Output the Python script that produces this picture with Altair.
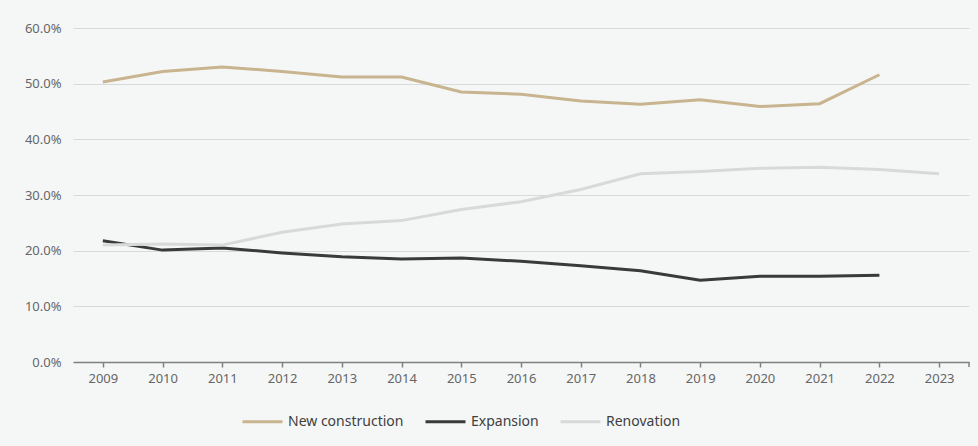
import altair as alt
import pandas as pd

years = [str(y) for y in range(2009, 2024)]
new_construction = [50.3, 52.2, 53.0, 52.2, 51.2, 51.2, 48.5, 48.1, 46.9, 46.3, 47.1, 45.9, 46.4, 51.6, None]
expansion = [21.8, 20.1, 20.5, 19.6, 18.9, 18.5, 18.7, 18.1, 17.3, 16.4, 14.7, 15.4, 15.4, 15.6, None]
renovation = [21.0, 21.2, 21.0, 23.3, 24.8, 25.4, 27.4, 28.8, 31.0, 33.8, 34.2, 34.8, 35.0, 34.6, 33.8]

series_names = ["New construction", "Expansion", "Renovation"]
series_colors = ["#c8b48e", "#3a3a3a", "#d9d9d9"]

rows = []
for name, vals in zip(series_names, [new_construction, expansion, renovation]):
    for y, v in zip(years, vals):
        if v is not None:
            rows.append({"Year": y, "Series": name, "Value": v / 100})
df = pd.DataFrame(rows)

FONT = "Noto Sans"

lines = alt.Chart(df).mark_line(strokeWidth=3).encode(
    x=alt.X("Year:O", sort=years, title=None,
            scale=alt.Scale(domain=years, paddingInner=0, paddingOuter=0),
            axis=alt.Axis(bandPosition=0, labelAngle=0, labelFont=FONT, labelFontSize=13,
                          labelColor="#666666", labelPadding=5, domainColor="#808080",
                          domainWidth=1.5, tickColor="#808080", tickSize=5, tickWidth=1.5,
                          grid=False)),
    y=alt.Y("Value:Q", title=None,
            scale=alt.Scale(domain=[0, 0.6], nice=False),
            axis=alt.Axis(format=".1%", values=[0, 0.1, 0.2, 0.3, 0.4, 0.5, 0.6],
                          labelFont=FONT, labelFontSize=13, labelColor="#666666",
                          labelPadding=12, domain=False, ticks=False,
                          gridColor="#d9d9d9", gridWidth=1)),
    color=alt.Color("Series:N", sort=series_names,
                    scale=alt.Scale(domain=series_names, range=series_colors),
                    legend=alt.Legend(title=None, orient="none", direction="horizontal",
                                      legendX=168, legendY=372, symbolType="stroke",
                                      symbolSize=1600, symbolStrokeWidth=3,
                                      labelFont=FONT, labelFontSize=14, labelColor="#404040",
                                      labelOffset=4, columnPadding=15)),
    order=alt.Order("Series:N")
)

end_tick = alt.Chart(pd.DataFrame({"a": [0]})).mark_rule(color="#808080", strokeWidth=1.5).encode(
    x=alt.value(896), y=alt.value(334), y2=alt.value(339)
)

chart = alt.layer(lines, end_tick).properties(
    width=896, height=334,
    autosize=alt.AutoSizeParams(type="none"),
    padding={"left": 73, "top": 28, "right": 9, "bottom": 84},
    background="#f5f7f7"
).configure_view(stroke=None)

chart.save("out.html", embed_options={"renderer": "svg", "actions": False})
